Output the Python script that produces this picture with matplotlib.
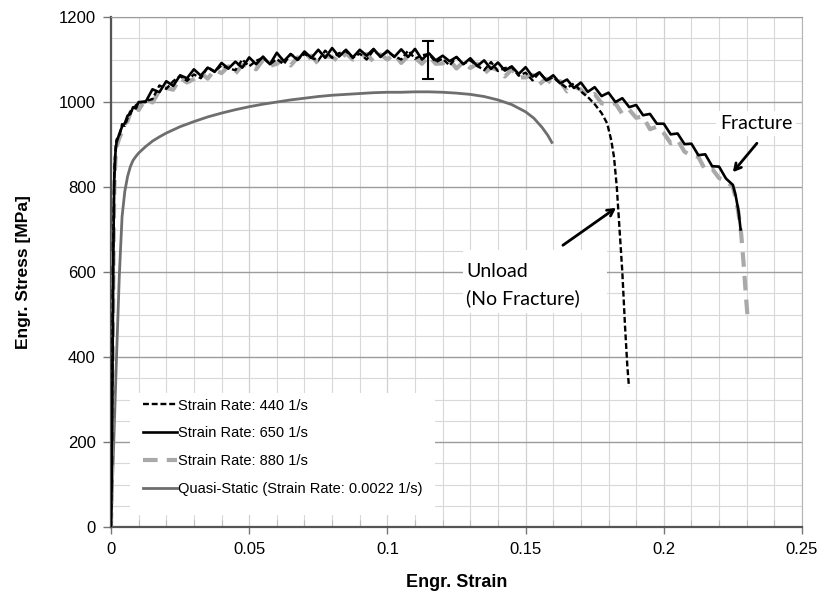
import matplotlib
matplotlib.use('Agg')
import matplotlib.pyplot as plt
from matplotlib.ticker import MultipleLocator, FuncFormatter
from matplotlib.patches import Rectangle

plt.rcParams['font.family'] = ['Liberation Sans', 'DejaVu Sans']

# ---------------- data ----------------
rise_strain = [0, 0.0003, 0.0006, 0.0009, 0.0012, 0.0016, 0.002, 0.003,
               0.004, 0.005, 0.006, 0.007, 0.008, 0.009]
rise_stress_440 = [0, 180, 470, 720, 840, 890, 912, 918, 948, 944, 962, 978, 980, 992]
rise_stress_650 = [0, 150, 420, 680, 820, 880, 905, 925, 942, 950, 968, 972, 988, 985]
rise_stress_880 = [0, 130, 380, 640, 800, 865, 895, 915, 930, 948, 955, 975, 970, 990]

strain_grid = [0.0100, 0.0125, 0.0150, 0.0175, 0.0200, 0.0225, 0.0250, 0.0275, 0.0300, 0.0325,
               0.0350, 0.0375, 0.0400, 0.0425, 0.0450, 0.0475, 0.0500, 0.0525, 0.0550, 0.0575,
               0.0600, 0.0625, 0.0650, 0.0675, 0.0700, 0.0725, 0.0750, 0.0775, 0.0800, 0.0825,
               0.0850, 0.0875, 0.0900, 0.0925, 0.0950, 0.0975, 0.1000, 0.1025, 0.1050, 0.1075,
               0.1100, 0.1125, 0.1150, 0.1175, 0.1200, 0.1225, 0.1250, 0.1275, 0.1300, 0.1325,
               0.1350, 0.1375, 0.1400, 0.1425, 0.1450, 0.1475, 0.1500, 0.1525, 0.1550, 0.1575,
               0.1600, 0.1625, 0.1650, 0.1675, 0.1700, 0.1725, 0.1750, 0.1775, 0.1800, 0.1825,
               0.1850, 0.1875, 0.1900, 0.1925, 0.1950, 0.1975, 0.2000, 0.2025, 0.2050, 0.2075,
               0.2100, 0.2125, 0.2150, 0.2175, 0.2200, 0.2225]

grid_stress_650 = [1000, 1000, 1030, 1023, 1049, 1038, 1063, 1056, 1077, 1062,
                   1081, 1071, 1092, 1079, 1095, 1081, 1105, 1089, 1107, 1089,
                   1116, 1096, 1113, 1099, 1119, 1104, 1123, 1104, 1127, 1107,
                   1123, 1105, 1123, 1109, 1125, 1106, 1121, 1106, 1124, 1106,
                   1125, 1100, 1115, 1098, 1109, 1096, 1106, 1089, 1103, 1085,
                   1098, 1078, 1093, 1074, 1084, 1066, 1082, 1060, 1070, 1051,
                   1063, 1044, 1053, 1033, 1046, 1024, 1035, 1014, 1022, 1000,
                   1009, 988, 993, 969, 972, 949, 949, 924, 926, 901,
                   902, 875, 877, 849, 848, 820]

grid_stress_880 = [981, 1007, 999, 1026, 1033, 1029, 1056, 1046, 1054, 1069,
                   1055, 1076, 1068, 1084, 1067, 1087, 1086, 1077, 1099, 1085,
                   1090, 1102, 1086, 1105, 1095, 1109, 1090, 1108, 1106, 1095,
                   1115, 1100, 1103, 1113, 1095, 1112, 1100, 1113, 1092, 1108,
                   1104, 1090, 1108, 1090, 1091, 1099, 1079, 1094, 1080, 1090,
                   1067, 1081, 1075, 1060, 1077, 1058, 1058, 1064, 1042, 1055,
                   1040, 1049, 1025, 1037, 1029, 1012, 1019, 997, 994, 997,
                   972, 982, 963, 966, 936, 942, 927, 903, 911, 883,
                   874, 871, 840, 843, 821, 815]

grid_stress_440 = [999, 1002, 1007, 1039, 1031, 1049, 1061, 1050, 1065, 1056,
                   1082, 1072, 1086, 1079, 1075, 1100, 1084, 1097, 1104, 1089,
                   1101, 1089, 1113, 1101, 1113, 1104, 1098, 1121, 1104, 1115,
                   1120, 1104, 1114, 1100, 1122, 1108, 1118, 1108, 1100, 1121,
                   1102, 1110, 1113, 1094, 1102, 1086, 1106, 1090, 1098, 1085,
                   1075, 1094, 1073, 1080, 1082, 1062, 1069, 1051, 1069, 1051,
                   1058, 1044, 1033, 1044]

tail_strain_650 = [0.2250, 0.2260, 0.2270, 0.2278]
tail_stress_650 = [805, 780, 745, 700]

tail_strain_880 = [0.2250, 0.2260, 0.2270, 0.2280, 0.2290, 0.2297, 0.2305]
tail_stress_880 = [800, 775, 740, 690, 610, 545, 480]

tail_strain_440 = [0.1700, 0.1725, 0.1750, 0.1775, 0.1795, 0.1810, 0.1820, 0.1830,
                   0.1840, 0.1850, 0.1860, 0.1868, 0.1874]
tail_stress_440 = [1025, 1012, 995, 974, 950, 910, 870, 800, 700, 600, 470, 380, 330]

qs_strain = [0, 0.001, 0.002, 0.003, 0.004, 0.005, 0.006, 0.007, 0.008, 0.009, 0.010,
             0.0125, 0.015, 0.0175, 0.020, 0.025, 0.030, 0.035, 0.040, 0.045, 0.050,
             0.055, 0.060, 0.065, 0.070, 0.075, 0.080, 0.085, 0.090, 0.095, 0.100,
             0.105, 0.110, 0.115, 0.120, 0.125, 0.130, 0.135, 0.140, 0.145, 0.150,
             0.153, 0.156, 0.158, 0.1595]
qs_stress = [0, 200, 400, 590, 730, 790, 825, 848, 863, 872, 880,
             895, 908, 918, 927, 942, 954, 965, 974, 982, 989,
             995, 1000, 1005, 1009, 1013, 1016, 1018, 1020, 1022, 1023,
             1023, 1024, 1024, 1023, 1021, 1018, 1013, 1005, 994, 977,
             962, 940, 922, 905]

errbar_strain = [0.1147]
errbar_stress = [1099]
errbar_err = [44]

labels = ['Strain Rate: 440 1/s', 'Strain Rate: 650 1/s', 'Strain Rate: 880 1/s',
          'Quasi-Static (Strain Rate: 0.0022 1/s)']
xticks = [0, 0.05, 0.1, 0.15, 0.2, 0.25]
yticks = [0, 200, 400, 600, 800, 1000, 1200]

# ---------------- assemble series ----------------
strain_650 = rise_strain + strain_grid + tail_strain_650
stress_650 = rise_stress_650 + grid_stress_650 + tail_stress_650
strain_880 = rise_strain + strain_grid + tail_strain_880
stress_880 = rise_stress_880 + grid_stress_880 + tail_stress_880
strain_440 = rise_strain + strain_grid[:len(grid_stress_440)] + tail_strain_440
stress_440 = rise_stress_440 + grid_stress_440 + tail_stress_440

# ---------------- figure ----------------
fig = plt.figure(figsize=(8.29, 5.98), dpi=100)
ax = fig.add_axes([0.1339, 0.1187, 0.8335, 0.8528])

ax.set_xlim(0, 0.25)
ax.set_ylim(0, 1200)
ax.set_axisbelow(True)

ax.xaxis.set_minor_locator(MultipleLocator(0.01))
ax.yaxis.set_minor_locator(MultipleLocator(50))
ax.set_xticks(xticks)
ax.set_yticks(yticks)
ax.xaxis.set_major_formatter(FuncFormatter(lambda v, p: f'{v:g}'))

ax.grid(True, which='minor', axis='both', color='#d8d8d8', lw=0.8)
ax.grid(True, which='major', axis='x', color='#d0d0d0', lw=0.9)
ax.grid(True, which='major', axis='y', color='#9c9c9c', lw=1.0)

ax.tick_params(axis='x', which='major', direction='out', length=5, width=1,
               color='#777777', labelsize=12, pad=6)
ax.tick_params(axis='x', which='minor', direction='in', length=5, width=0.8,
               color='#bbbbbb')
ax.tick_params(axis='y', which='major', direction='out', length=6, width=1,
               color='#777777', labelsize=12, pad=5)
ax.tick_params(axis='y', which='minor', length=0)

ax.spines['left'].set_color('#555555')
ax.spines['left'].set_linewidth(1.6)
ax.spines['bottom'].set_color('#555555')
ax.spines['bottom'].set_linewidth(1.6)
ax.spines['top'].set_color('#9c9c9c')
ax.spines['right'].set_color('#b5b5b5')

ax.set_xlabel('Engr. Strain', fontsize=13, fontweight='bold', labelpad=12)
ax.set_ylabel('Engr. Stress [MPa]', fontsize=12.5, fontweight='bold', labelpad=20)

# legend background
ax.add_patch(Rectangle((0.0275, 0.0235), 0.441, 0.239, transform=ax.transAxes,
                       facecolor='white', edgecolor='none', zorder=1.5))

# curves
l_qs, = ax.plot(qs_strain, qs_stress, color='#6e6e6e', lw=2.0, zorder=3)
l_880, = ax.plot(strain_880, stress_880, color='#a9a9a9', lw=3.0, dashes=(3.5, 2.2), zorder=3.2)
l_440, = ax.plot(strain_440, stress_440, color='black', lw=1.7, dashes=(2.5, 1.2), zorder=3.4)
l_650, = ax.plot(strain_650, stress_650, color='black', lw=1.9, zorder=3.6)

ax.errorbar(errbar_strain, errbar_stress, yerr=errbar_err, fmt='none', ecolor='black',
            elinewidth=1.5, capsize=4, capthick=1.5, zorder=5)

leg = ax.legend([l_440, l_650, l_880, l_qs], labels, loc='upper left',
                bbox_to_anchor=(0.0463, 0.252), frameon=False, fontsize=10.5,
                handlelength=2.3, handletextpad=0.08, labelspacing=0.95,
                borderpad=0, borderaxespad=0)
leg.set_zorder(6)

ann_font = ['Lato', 'DejaVu Sans']

# Fracture annotation
ax.text(0.2203, 936, 'Fracture', fontfamily=ann_font, fontsize=14, ha='left', va='baseline',
        bbox=dict(facecolor='white', edgecolor='none', pad=3), zorder=4)
ax.annotate('', xy=(0.2250, 835), xytext=(0.2337, 903),
            arrowprops=dict(arrowstyle='->,head_length=0.45,head_width=0.25', lw=2,
                            color='black', shrinkA=0, shrinkB=0), zorder=6)

# Unload annotation
ax.add_patch(Rectangle((0.1274, 503), 0.052, 149, facecolor='white', edgecolor='none', zorder=2))
ax.text(0.1284, 588, 'Unload', fontfamily=ann_font, fontsize=14, ha='left', va='baseline', zorder=4)
ax.text(0.1284, 524, '(No Fracture)', fontfamily=ann_font, fontsize=14, ha='left', va='baseline', zorder=4)
ax.annotate('', xy=(0.1827, 751), xytext=(0.1635, 663),
            arrowprops=dict(arrowstyle='->,head_length=0.45,head_width=0.25', lw=2,
                            color='black', shrinkA=0, shrinkB=0), zorder=6)

fig.savefig('out.png', dpi=100)
